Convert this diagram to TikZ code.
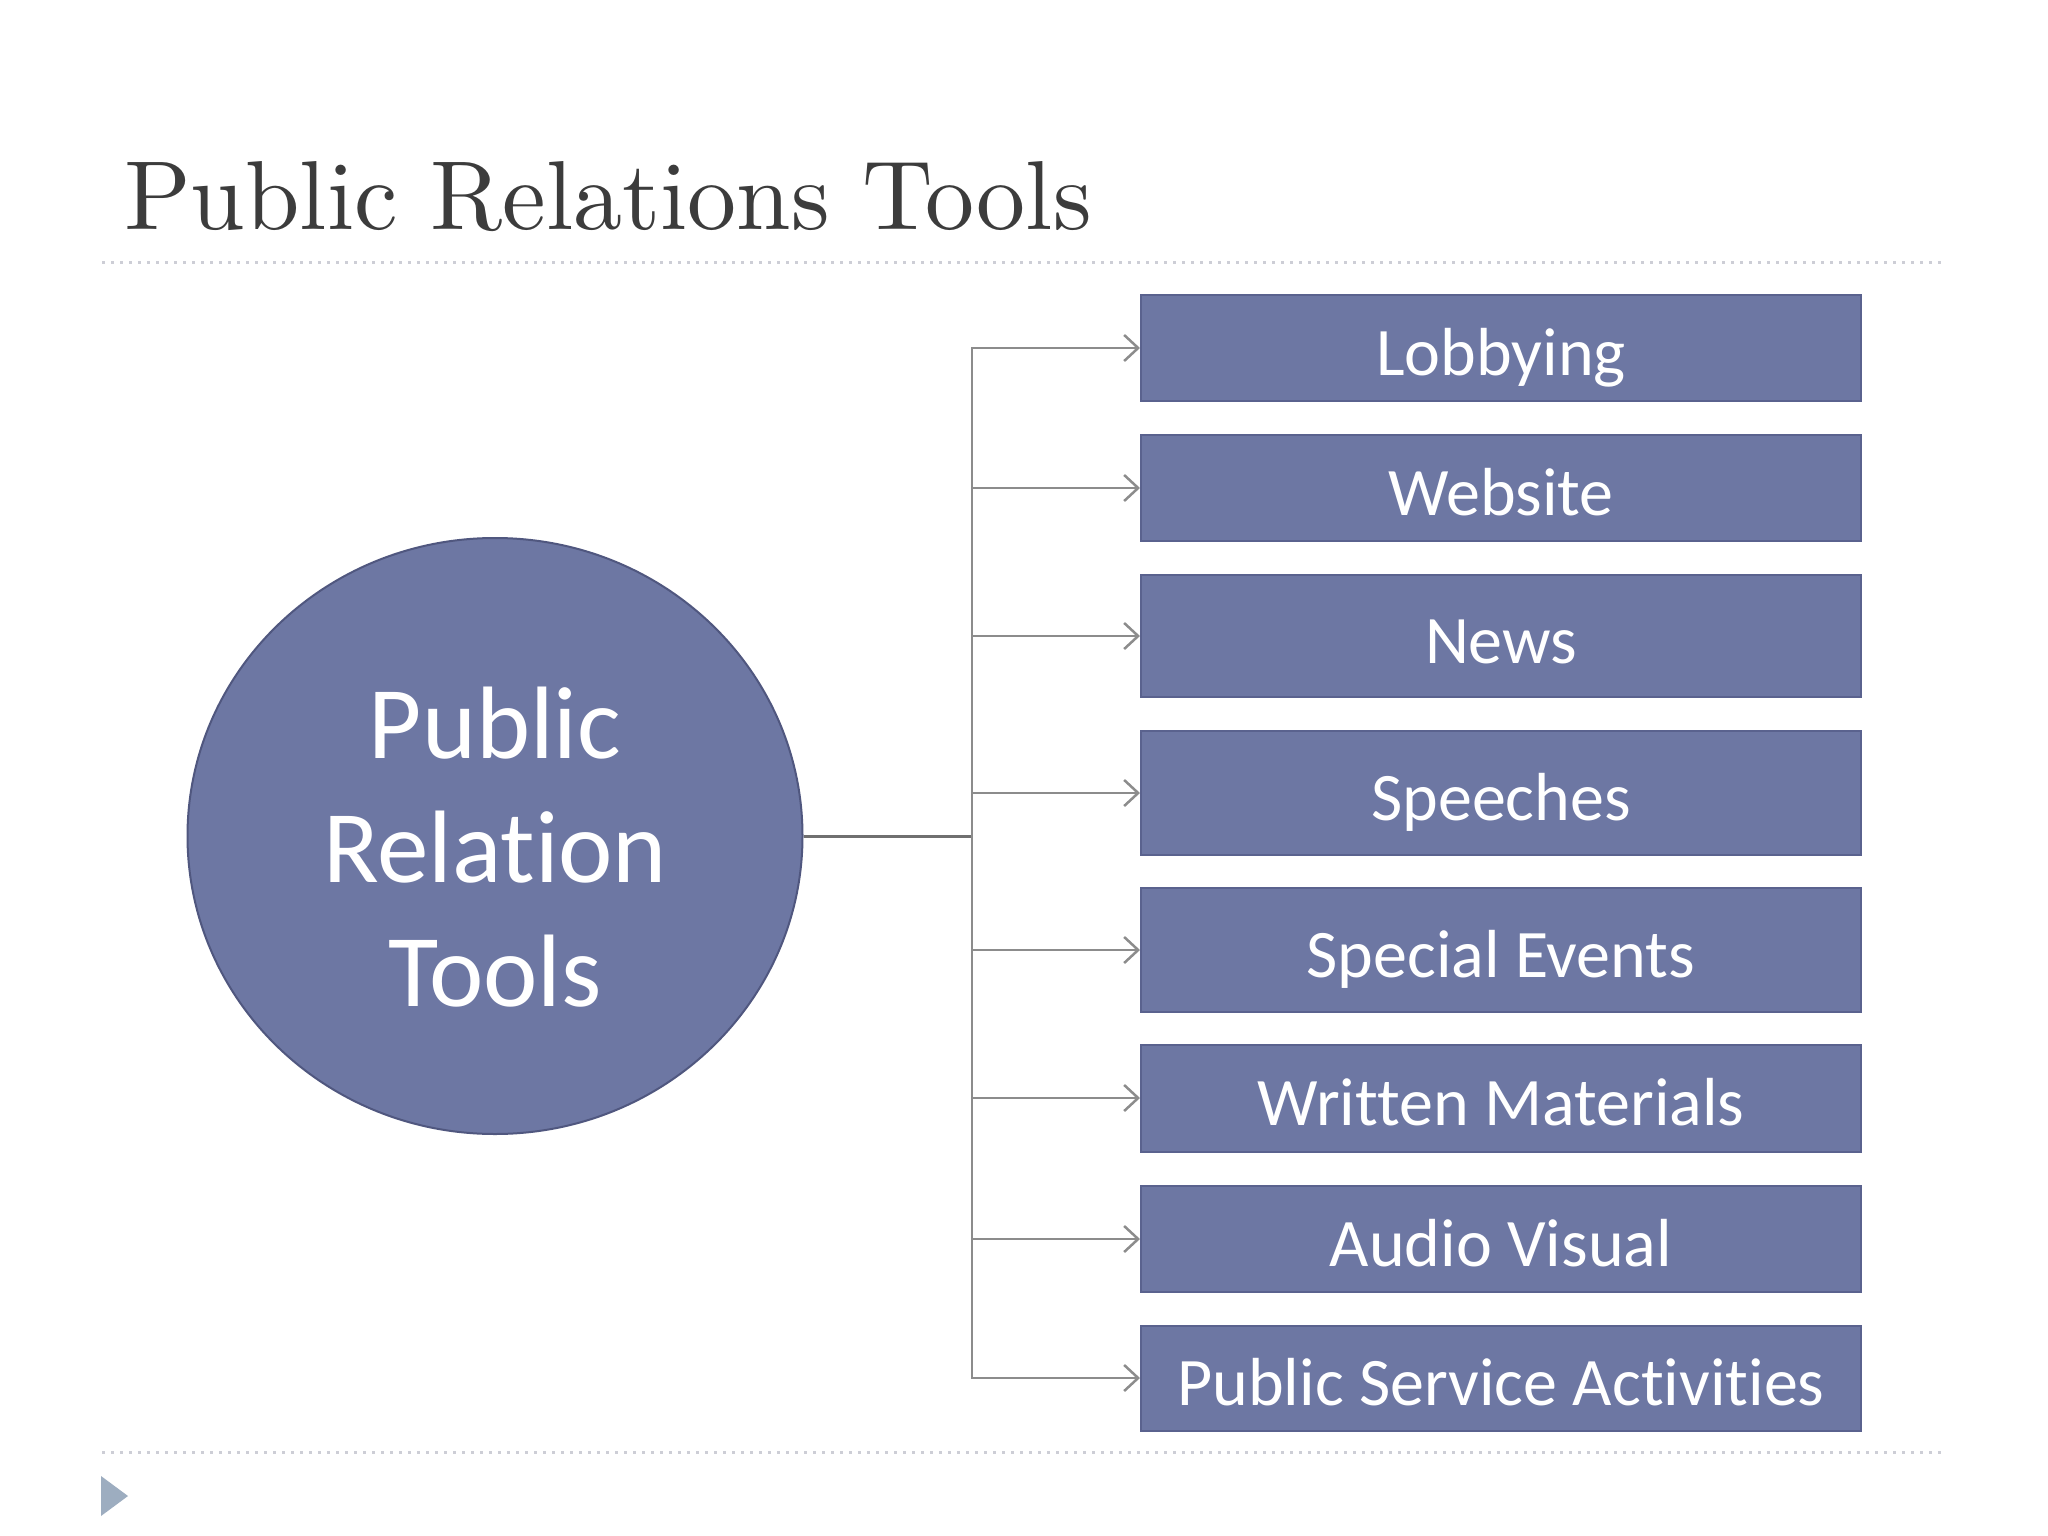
\documentclass[tikz,border=0pt]{standalone}
\usepackage{fontspec}
\newfontfamily\boxfont{Carlito}[Ligatures=NoCommon]
\newfontfamily\titlefont{lmroman10-regular}[Extension=.otf]
\usetikzlibrary{arrows.meta,shapes.geometric}
\definecolor{boxfill}{HTML}{6D77A3}
\definecolor{boxline}{HTML}{5A628E}
\definecolor{circline}{HTML}{50577F}
\definecolor{conn}{HTML}{8C8C8C}
\definecolor{trunkcol}{HTML}{707070}
\definecolor{dotline}{HTML}{CDCED6}
\definecolor{titlecol}{HTML}{3C3C3C}
\definecolor{tri}{HTML}{9DADC0}
\begin{document}
\begin{tikzpicture}[x=1pt,y=-1pt,
  toolbox/.style={draw=boxline, line width=2pt, fill=boxfill, minimum width=720pt,
    inner sep=0pt, text=white, font=\boxfont\fontsize{68}{82}\selectfont,
    text height=54pt, text depth=0pt},
  arr/.style={draw=conn, line width=2.5pt,
    -{Straight Barb[length=14pt,width=26pt,line width=2.5pt]}},
  trunk/.style={draw=trunkcol, line width=3pt},
  sep/.style={draw=dotline, line width=3pt, dash pattern=on 3pt off 6pt}]
\useasboundingbox (0,0) rectangle (2048,1536);
\fill[white] (0,0) rectangle (2048,1536);

% title
\node[anchor=base west, inner sep=0pt, text=titlecol,
  font=\titlefont\fontsize{98}{110}\selectfont] (title) at (124,229) {Public Relations Tools};

% separators
\coordinate (s1a) at (102,262); \coordinate (s1b) at (1946,262);
\coordinate (s2a) at (102,1452); \coordinate (s2b) at (1946,1452);
\draw[sep] (s1a) -- (s1b);
\draw[sep] (s2a) -- (s2b);

% bullet triangle
\fill[tri] (101,1476) -- (101,1516) -- (128,1496) -- cycle;

% central ellipse
\node[ellipse, draw=circline, line width=2pt, fill=boxfill, minimum width=615pt,
  minimum height=596pt, text=white, align=center,
  font=\boxfont\fontsize{103}{124}\selectfont] (c) at (495,836)
  {\rule{0pt}{94pt}Public\\Relation\\Tools};

% boxes
\node[toolbox, minimum height=106pt] (b1) at (1501,348) {Lobbying};
\node[toolbox, minimum height=106pt] (b2) at (1501,488) {Website};
\node[toolbox, minimum height=122pt] (b3) at (1501,636) {News};
\node[toolbox, minimum height=124pt] (b4) at (1501,793) {Speeches};
\node[toolbox, minimum height=124pt] (b5) at (1501,950) {Special Events};
\node[toolbox, minimum height=107pt] (b6) at (1501,1098) {Written Materials};
\node[toolbox, minimum height=106pt] (b7) at (1501,1239) {Audio Visual};
\node[toolbox, minimum height=105pt] (b8) at (1501,1378) {Public Service Activities};

% connectors
\coordinate (j) at (972,836);
\draw[trunk] (c.east) -- (j);
\foreach \b in {b1,b2,b3,b4,b5,b6,b7,b8}
  \draw[arr] (j) |- (\b.west);
\end{tikzpicture}
\end{document}
